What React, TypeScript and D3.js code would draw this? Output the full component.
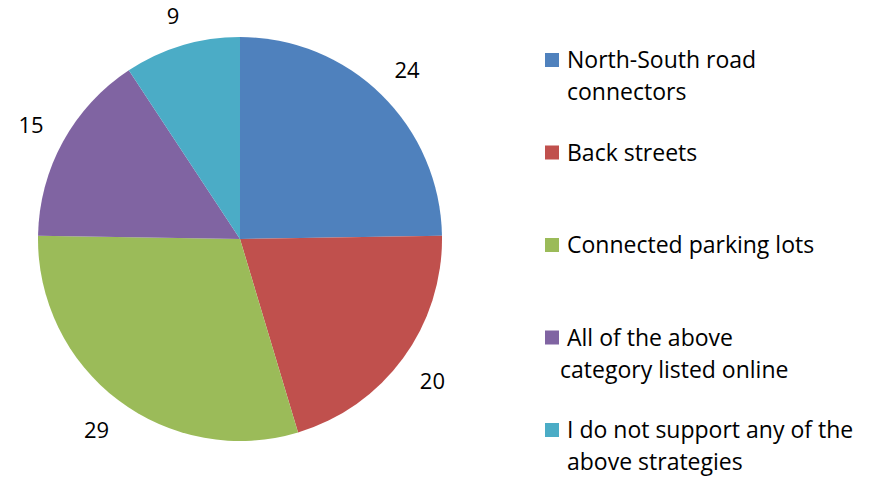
import React from 'react';
import * as d3 from 'd3';

const categories = [
  'North-South road connectors',
  'Back streets',
  'Connected parking lots',
  'All of the above category listed online',
  'I do not support any of the above strategies',
];
const values = [24, 20, 29, 15, 9];
const colors = ['#4F81BD', '#C0504D', '#9BBB59', '#8064A2', '#4BACC6'];
const legendLines = [
  ['North-South road', 'connectors'],
  ['Back streets'],
  ['Connected parking lots'],
  ['All of the above', 'category listed online'],
  ['I do not support any of the', 'above strategies'],
];

const W = 875;
const H = 477;
const cx = 240;
const cy = 239;
const radius = 202;
const labelGap = 21;
const fontSize = 22;
const legendFontSize = 23;
const font = '"Open Sans", sans-serif';

export default function App() {
  const pie = d3.pie<number>().sort(null).value(d => d);
  const arcs = pie(values);
  const arc = d3.arc<d3.PieArcDatum<number>>().innerRadius(0).outerRadius(radius);

  const legendY = d3.scalePoint<number>()
    .domain(d3.range(categories.length))
    .range([68, 438]);

  // outside-end labels: push the label box out so it clears the rim
  const labelPos = (a: d3.PieArcDatum<number>, txt: string) => {
    const mid = (a.startAngle + a.endAngle) / 2;
    const halfW = (txt.length * fontSize * 0.57) / 2;
    const halfH = 9;
    const r = radius + labelGap + Math.abs(Math.sin(mid)) * halfW + Math.abs(Math.cos(mid)) * halfH;
    return [Math.sin(mid) * r, -Math.cos(mid) * r];
  };

  return (
    <svg width={W} height={H} style={{ position: 'absolute', left: 0, top: 0 }} fontFamily={font}>
      <rect width={W} height={H} fill="#fff" />
      <g transform={`translate(${cx},${cy})`}>
        {arcs.map((a, i) => (
          <path key={categories[i]} d={arc(a) || ''} fill={colors[i]} />
        ))}
        {arcs.map((a, i) => {
          const [x, y] = labelPos(a, String(values[i]));
          return (
            <text key={i} x={x} y={y} textAnchor="middle" dominantBaseline="central" fontSize={fontSize} fill="#000">
              {values[i]}
            </text>
          );
        })}
      </g>
      <g>
        {legendLines.map((lines, i) => {
          const y = legendY(i) || 0;
          return (
            <g key={i}>
              <rect x={545} y={y - 15} width={14} height={14} fill={colors[i]} />
              {lines.map((ln, j) => (
                <text key={j} x={i === 3 && j > 0 ? 560 : 567} y={y + j * 32} fontSize={legendFontSize} fill="#000">
                  {ln}
                </text>
              ))}
            </g>
          );
        })}
      </g>
    </svg>
  );
}
